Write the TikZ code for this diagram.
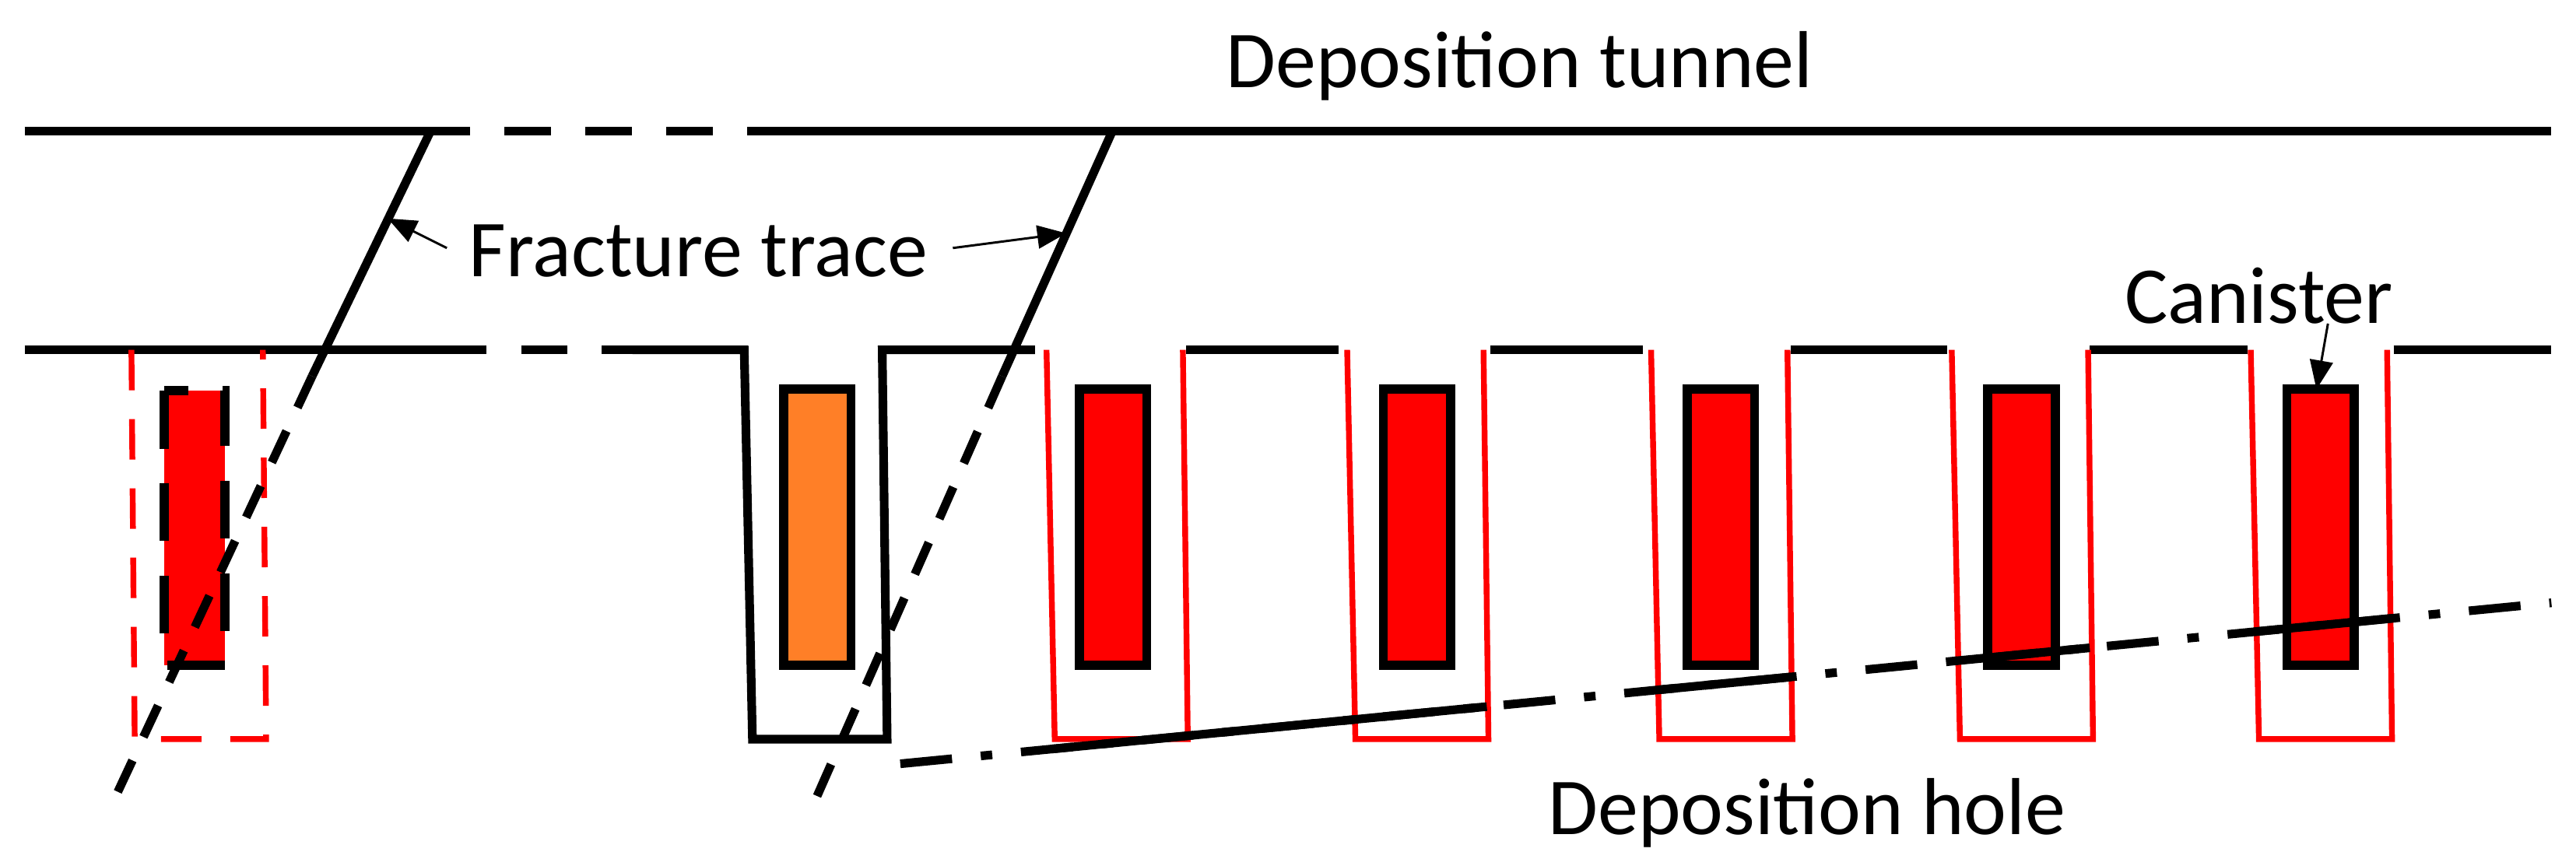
\documentclass[tikz,border=0pt]{standalone}
\usepackage{fontspec}
\setmainfont{Carlito}
\usetikzlibrary{arrows.meta,calc}
\definecolor{canred}{RGB}{255,0,0}
\definecolor{canorange}{RGB}{255,127,39}
\begin{document}
\begin{tikzpicture}[x=0.02cm,y=-0.02cm,
  wall/.style={line width=3pt},
  redwall/.style={line width=2pt,canred},
  can/.style={line width=3.2pt,fill=canred},
  lbl/.style={font=\fontsize{28}{32}\selectfont,inner sep=0pt},
  pointer/.style={line width=0.8pt,-{Triangle[length=10pt,width=8pt]}}]
\useasboundingbox (0,0) rectangle (1568,527);
% tunnel
\draw[wall] (15,80) -- (258,80);
\draw[wall,dash pattern=on 16pt off 12pt] (258,80) -- (470,80);
\draw[wall] (470,80) -- (1553,80);
\draw[wall] (15,213) -- (268,213);
\draw[wall,dash pattern=on 16pt off 12pt] (268,213) -- (385,213);
\draw[wall] (385,213) -- (453,213) -- (458,450) -- (540,450) -- (537,213) -- (630,213);
\foreach \a/\b in {722/815,907/1000,1090/1185,1272/1368,1457/1553}
  \draw[wall] (\a,213) -- (\b,213);
% red holes
\foreach \x in {637,820,1005,1188,1370}
  \draw[redwall] (\x,213) -- (\x+5,450) -- (\x+86,450) -- (\x+83,213);
% left dashed hole
\draw[redwall,dash pattern=on 14pt off 10pt] (80,213) -- (82,450) -- (162,450) -- (160,213);
\fill[canred] (100,238) rectangle (137,405);
\draw[line width=3.2pt,dash pattern=on 20pt off 12pt] (100,238) rectangle (137,405);
% canisters
\draw[can,fill=canorange] (477,237) rectangle (518,405);
\foreach \x in {657,842,1027,1210,1392}
  \draw[can] (\x,237) rectangle (\x+41,405);
% fractures
\coordinate (f1t) at (262,80); \coordinate (f1m) at (190,229); \coordinate (f1b) at (68,490);
\coordinate (f2t) at (677,80); \coordinate (f2m) at (610,229); \coordinate (f2b) at (495,490);
\draw[wall] (f1t) -- (f1m);
\draw[wall,dash pattern=on 12pt off 9pt] (f1m) -- (f1b);
\draw[wall] (f2t) -- (f2m);
\draw[wall,dash pattern=on 12pt off 9pt] (f2m) -- (f2b);
% deposition hole line
\coordinate (d1) at (548,465); \coordinate (d2) at (1553,367);
\draw[wall,dash pattern=on 18pt off 10pt on 4pt off 10pt] (d1) -- (d2);
\foreach \a/\b in {640/905,1010/1090,1190/1272,1372/1457}
  \draw[wall] ($(d1)!{(\a-548)/1005}!(d2)$) -- ($(d1)!{(\b-548)/1005}!(d2)$);
% labels
\node[lbl] (tun) at (925,40) {Deposition tunnel};
\node[lbl] (frac) at (425,153) {Fracture trace};
\node[lbl] (can) at (1375,180) {Canister};
\node[lbl] (hole) at (1100,495) {Deposition hole};
\coordinate (a1) at (236,133);
\coordinate (a2) at (649,142);
\coordinate (a3) at (1410,237);
\coordinate (c3) at (1417,197);
\draw[pointer] (272,151) -- (a1);
\draw[pointer] (580,151) -- (a2);
\draw[pointer] (c3) -- (a3);
\end{tikzpicture}
\end{document}
